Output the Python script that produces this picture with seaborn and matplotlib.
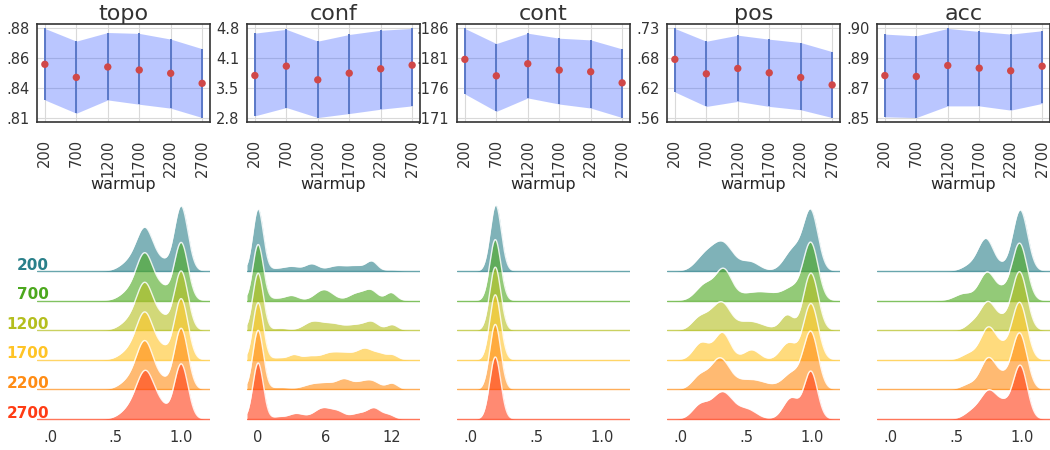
import numpy as np
import pandas as pd
import matplotlib
matplotlib.use("Agg")
import matplotlib.pyplot as plt
import seaborn as sns

# ---- data ----
metrics = ["topo", "conf", "cont", "pos", "acc"]
warmups = [200, 700, 1200, 1700, 2200, 2700]

topo_mean = [0.8555, 0.8452, 0.8534, 0.8510, 0.8484, 0.8405]
topo_low = [0.8274, 0.8169, 0.8274, 0.8240, 0.8209, 0.8135]
topo_high = [0.8838, 0.8738, 0.8806, 0.8799, 0.8754, 0.8678]

conf_mean = [3.744, 3.954, 3.647, 3.796, 3.894, 3.976]
conf_low = [2.838, 3.025, 2.800, 2.890, 2.987, 3.062]
conf_high = [4.695, 4.780, 4.515, 4.665, 4.760, 4.800]

cont_mean = [0.18096, 0.17817, 0.18022, 0.17914, 0.17886, 0.17698]
cont_low = [0.1751, 0.17214, 0.17442, 0.17339, 0.17271, 0.1711]
cont_high = [0.1862, 0.18364, 0.18540, 0.18455, 0.18426, 0.18273]

pos_mean = [0.6748, 0.6471, 0.6574, 0.6490, 0.6400, 0.6258]
pos_low = [0.6123, 0.5846, 0.5942, 0.5846, 0.5782, 0.5633]
pos_high = [0.7340, 0.7095, 0.7211, 0.7134, 0.7070, 0.6896]

acc_mean = [0.8778, 0.8773, 0.8835, 0.8820, 0.8805, 0.8831]
acc_low = [0.8544, 0.8540, 0.8606, 0.8606, 0.8582, 0.8620]
acc_high = [0.9013, 0.9003, 0.9045, 0.9028, 0.9013, 0.9032]

decimals = [2, 1, 3, 2, 2]

# distribution shapes per warmup: (centre, spread, height) of each bump
topo_peaks = [
    [(0.60, 0.07, 8), (0.725, 0.065, 42), (0.86, 0.05, 7), (1.0, 0.052, 65)],
    [(0.60, 0.07, 8), (0.725, 0.065, 46), (0.86, 0.05, 10), (1.0, 0.052, 58)],
    [(0.60, 0.07, 8), (0.725, 0.065, 46), (0.86, 0.05, 10), (1.0, 0.052, 59)],
    [(0.60, 0.07, 8), (0.725, 0.065, 46), (0.86, 0.05, 9), (1.0, 0.052, 61)],
    [(0.60, 0.07, 8), (0.725, 0.065, 47), (0.86, 0.05, 7), (1.0, 0.052, 61)],
    [(0.60, 0.07, 8), (0.73, 0.07, 47), (0.86, 0.05, 8), (1.0, 0.052, 55)],
]
conf_peaks = [
    [(0, 0.47, 62), (1.6, 0.6, 2), (3.0, 0.7, 4.5), (4.8, 0.6, 7), (7.0, 0.8, 5),
     (8.8, 0.8, 5), (10.2, 0.5, 9), (12.0, 0.6, 1)],
    [(0, 0.47, 56), (1.6, 0.6, 2), (3.0, 0.6, 5), (5.9, 0.8, 11), (8.8, 0.7, 7),
     (10.1, 0.6, 10), (11.9, 0.5, 8)],
    [(0, 0.47, 57), (2.0, 0.6, 2), (4.9, 0.8, 8.5), (6.6, 0.8, 6), (8.8, 1.0, 5.5),
     (10.2, 0.6, 7), (12.0, 0.5, 5.5)],
    [(0, 0.47, 57), (1.8, 0.6, 2), (3.2, 0.5, 5), (4.6, 0.6, 3.5), (6.4, 0.8, 6.5),
     (7.9, 0.8, 6), (9.6, 0.7, 11), (10.9, 0.5, 5), (12.0, 0.5, 5)],
    [(0, 0.47, 59), (2.0, 0.8, 2), (4.9, 0.9, 5), (6.4, 0.8, 5), (7.7, 0.6, 8.5),
     (9.0, 0.7, 5.5), (10.2, 0.7, 8), (12.0, 0.5, 6)],
    [(0, 0.47, 56), (1.8, 0.5, 2), (3.4, 0.7, 5.5), (5.8, 0.8, 11), (7.2, 0.6, 6),
     (9.0, 0.7, 5.5), (10.4, 0.6, 10.5), (11.7, 0.5, 4)],
]
cont_peaks = [
    [(0.194, 0.042, 66)],
    [(0.19, 0.042, 61)],
    [(0.19, 0.042, 63)],
    [(0.19, 0.042, 65)],
    [(0.19, 0.042, 65)],
    [(0.19, 0.042, 62)],
]
pos_peaks = [
    [(0.18, 0.07, 13), (0.32, 0.08, 28), (0.53, 0.07, 9), (0.86, 0.07, 22), (0.99, 0.055, 58)],
    [(0.19, 0.07, 16), (0.33, 0.06, 28), (0.60, 0.16, 9), (0.86, 0.07, 11), (0.99, 0.055, 56)],
    [(0.15, 0.06, 13), (0.24, 0.05, 8), (0.32, 0.06, 24), (0.52, 0.11, 9), (0.81, 0.05, 15),
     (0.99, 0.055, 57)],
    [(0.16, 0.06, 17), (0.32, 0.06, 27), (0.54, 0.06, 10), (0.82, 0.06, 17), (0.99, 0.055, 56)],
    [(0.15, 0.06, 13), (0.30, 0.07, 29), (0.53, 0.13, 10), (0.85, 0.07, 16), (0.99, 0.055, 56)],
    [(0.15, 0.06, 13), (0.32, 0.08, 27), (0.51, 0.07, 9), (0.84, 0.06, 21), (0.99, 0.05, 47)],
]
acc_peaks = [
    [(0.60, 0.06, 5), (0.725, 0.06, 32), (0.86, 0.05, 3), (0.985, 0.056, 61)],
    [(0.56, 0.07, 7), (0.735, 0.06, 28), (0.86, 0.05, 8), (0.98, 0.056, 57)],
    [(0.62, 0.05, 6), (0.74, 0.06, 28), (0.86, 0.05, 8), (0.98, 0.056, 58)],
    [(0.60, 0.06, 6), (0.745, 0.06, 32), (0.86, 0.05, 9), (0.98, 0.056, 57)],
    [(0.60, 0.06, 5), (0.745, 0.06, 31), (0.86, 0.05, 9), (0.98, 0.056, 56)],
    [(0.62, 0.06, 7), (0.75, 0.065, 28), (0.87, 0.05, 11), (0.985, 0.053, 53)],
]

ridge_xlim = [(-0.1, 1.22), (-1.0, 14.5), (-0.1, 1.21), (-0.1, 1.21), (-0.1, 1.21)]
ridge_ticks = [[0, 0.5, 1.0], [0, 6, 12], [0, 0.5, 1.0], [0, 0.5, 1.0], [0, 0.5, 1.0]]
ridge_ticklabels = [[".0", ".5", "1.0"], ["0", "6", "12"], [".0", ".5", "1.0"],
                    [".0", ".5", "1.0"], [".0", ".5", "1.0"]]

row_colors = ["#2a808a", "#4ca81e", "#b4be1e", "#ffc426", "#ff8c14", "#ff3c14"]

means = [topo_mean, conf_mean, cont_mean, pos_mean, acc_mean]
lows = [topo_low, conf_low, cont_low, pos_low, acc_low]
highs = [topo_high, conf_high, cont_high, pos_high, acc_high]
peaks = [topo_peaks, conf_peaks, cont_peaks, pos_peaks, acc_peaks]

# ---- style ----
sns.set_style("whitegrid", {"axes.edgecolor": ".2", "grid.color": ".85",
                            "text.color": ".2", "xtick.color": ".2", "ytick.color": ".2"})
plt.rcParams["font.family"] = ["DejaVu Sans"]

fig = plt.figure(figsize=(10.5, 4.5), dpi=100)

W, H = 1050.0, 450.0
col_left = [37 + 210 * i for i in range(5)]
ax_w = 173
row_step = 29.6


def fmt(v, d):
    s = f"{v:.{d}f}"
    return s[1:] if s.startswith("0.") else s


for k, name in enumerate(metrics):
    # ---- top: spread band with means ----
    ax = fig.add_axes([col_left[k] / W, (H - 122) / H, ax_w / W, 98 / H])
    df = pd.DataFrame({"warmup": warmups, "mean": means[k],
                       "low": lows[k], "high": highs[k]})
    ax.fill_between(df["warmup"], df["low"], df["high"], color="#2a50ff",
                    alpha=0.32, lw=0, zorder=2)
    ax.vlines(df["warmup"], df["low"], df["high"], color="#5a78c8", lw=1.4, zorder=3)
    sns.scatterplot(data=df, x="warmup", y="mean", ax=ax, color="#d04848",
                    s=28, edgecolor="none", zorder=4)
    lo, hi = min(lows[k]), max(highs[k])
    yt = np.linspace(lo, hi, 4)
    ax.set_yticks(yt)
    ax.set_yticklabels([fmt(v, decimals[k]) for v in yt])
    r = hi - lo
    ax.set_ylim(lo - 0.05 * r, hi + 0.05 * r)
    ax.set_xlim(75, 2825)
    ax.set_xticks(warmups)
    ax.set_xticklabels([str(w) for w in warmups], rotation=90)
    ax.tick_params(axis="x", labelsize=10.5, pad=9)
    ax.tick_params(axis="y", labelsize=10.5, pad=2)
    ax.set_xlabel("warmup", fontsize=11.5, labelpad=0)
    ax.set_ylabel("")
    ax.set_title(name, fontsize=16, pad=3)
    for sp in ax.spines.values():
        sp.set_linewidth(1.2)

    # ---- bottom: ridge plot of distributions ----
    rax = fig.add_axes([col_left[k] / W, (H - 422) / H, ax_w / W, 222 / H])
    rax.patch.set_alpha(0)
    x0, x1 = ridge_xlim[k]
    xs = np.linspace(x0, x1, 800)
    n = len(warmups)
    for i, (w, pk) in enumerate(zip(warmups, peaks[k])):
        base = (n - 1 - i) * row_step
        dens = np.zeros_like(xs)
        for c, sd, h in pk:
            dens += h * np.exp(-0.5 * ((xs - c) / sd) ** 2)
        z = 10 + 4 * i
        rax.fill_between(xs, base, base + dens, color=row_colors[i], alpha=0.6,
                         lw=0, zorder=z)
        rax.plot(xs, base + dens, color="white", lw=1.0, alpha=0.85, zorder=z + 1)
        rax.plot([x0, x1], [base, base], color=row_colors[i], lw=1.0, alpha=0.7,
                 zorder=z + 2)
        if k == 0:
            rax.text(0.07, base + 1.5, str(w), color=row_colors[i], fontsize=11,
                     fontweight="bold", ha="right", va="baseline",
                     transform=rax.get_yaxis_transform(), zorder=60)
    rax.set_xlim(x0, x1)
    rax.set_ylim(-3, 219)
    rax.set_xticks(ridge_ticks[k])
    rax.set_xticklabels(ridge_ticklabels[k])
    rax.set_yticks([])
    rax.grid(False)
    rax.tick_params(axis="x", labelsize=10.5, pad=6, length=0)
    sns.despine(ax=rax, left=True, bottom=True)

fig.savefig("out.png", dpi=100)
